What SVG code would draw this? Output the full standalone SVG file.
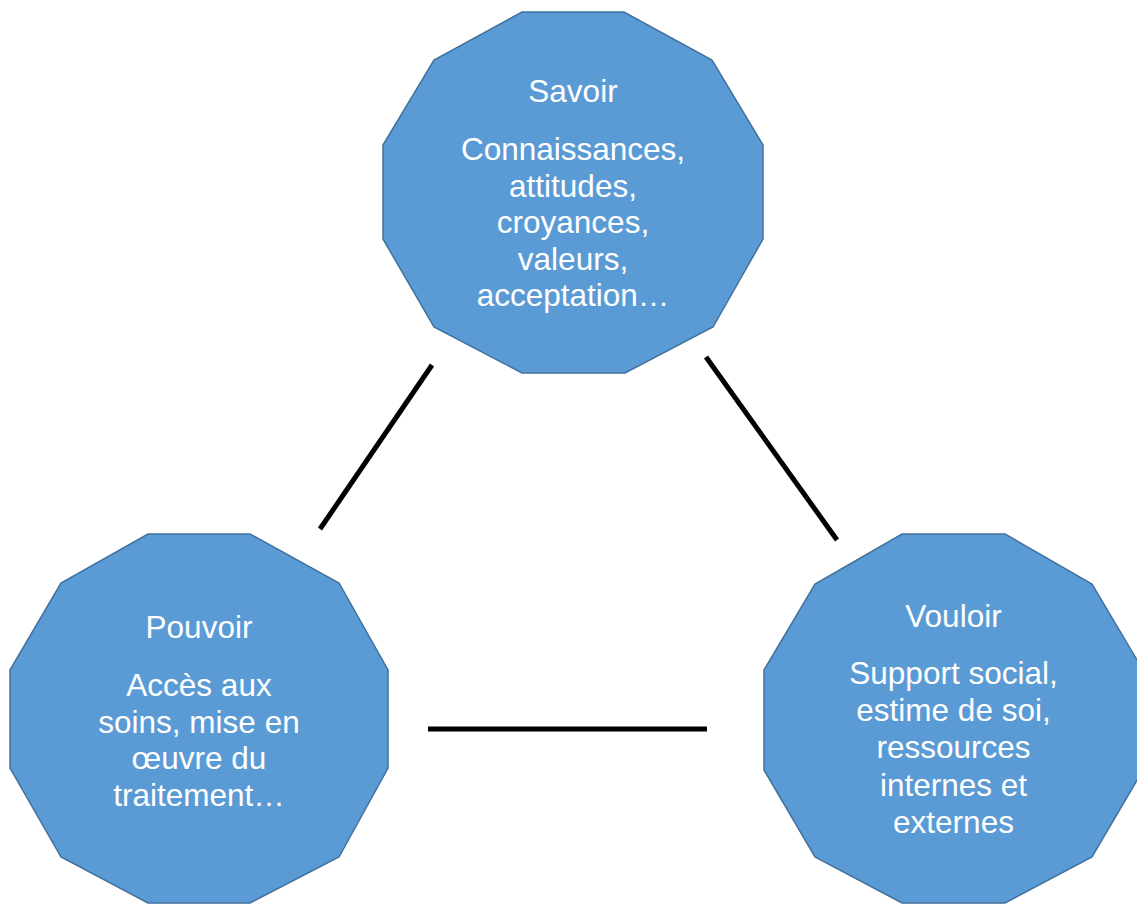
<svg xmlns="http://www.w3.org/2000/svg" width="1137" height="904" viewBox="0 0 1137 904">
<style>
.shape{fill:#5B9BD5;stroke:#41719C;stroke-width:1.5}
.t{font-family:"Liberation Sans",Arial,sans-serif;font-size:31.5px;fill:#ffffff;text-anchor:middle}
.c{stroke:#000000;stroke-width:5;fill:none}
</style>
<rect width="1137" height="904" fill="#ffffff"/>
<g id="connectors">
<line class="c" x1="432" y1="365" x2="320" y2="529"/>
<line class="c" x1="706" y1="357" x2="837" y2="540"/>
<line class="c" x1="428" y1="729" x2="707" y2="729"/>
</g>
<g id="savoir">
<polygon class="shape" points="522,12 624,12 712,60 763,145 763,239 713,327 625,373 522,373 434,327 383,239 383,145 434,60"/>
<text class="t" x="573" y="102">Savoir</text>
<text class="t" x="573" y="160">Connaissances,</text>
<text class="t" x="573" y="197">attitudes,</text>
<text class="t" x="573" y="233">croyances,</text>
<text class="t" x="573" y="270">valeurs,</text>
<text class="t" x="573" y="306">acceptation…</text>
</g>
<g id="pouvoir">
<polygon class="shape" points="148,534 250,534 339,583 388,670 388,768 339,857 250,903 148,903 61,857 10,768 10,670 61,583"/>
<text class="t" x="199" y="638">Pouvoir</text>
<text class="t" x="199" y="696">Accès aux</text>
<text class="t" x="199" y="733">soins, mise en</text>
<text class="t" x="199" y="769">œuvre du</text>
<text class="t" x="199" y="806">traitement…</text>
</g>
<g id="vouloir">
<polygon class="shape" points="902,534 1005,534 1092,584 1143,670 1143,770 1092,857 1005,903 902,903 815,857 764,770 764,670 815,584"/>
<text class="t" x="953.5" y="627">Vouloir</text>
<text class="t" x="953.5" y="684">Support social,</text>
<text class="t" x="953.5" y="721">estime de soi,</text>
<text class="t" x="953.5" y="758">ressources</text>
<text class="t" x="953.5" y="796">internes et</text>
<text class="t" x="953.5" y="833">externes</text>
</g>
</svg>
